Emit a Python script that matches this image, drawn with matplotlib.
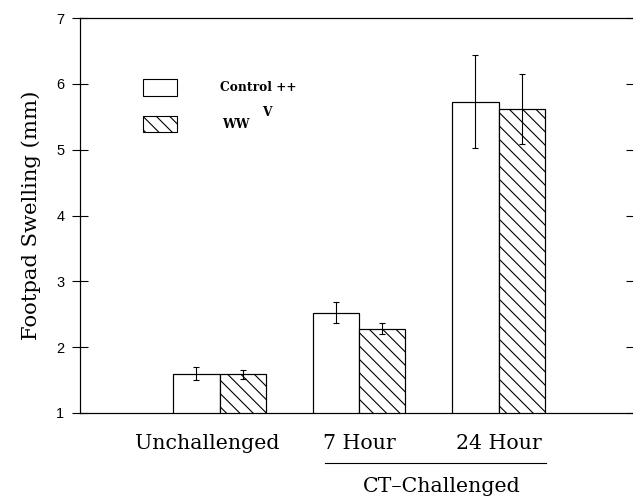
import numpy as np
import matplotlib.pyplot as plt
from matplotlib.patches import Rectangle
from matplotlib.lines import Line2D
import matplotlib.transforms as mtransforms

# Data
groups = ["Unchallenged", "7 Hour", "24 Hour"]
control_mean = [1.60, 2.52, 5.73]
control_err = [0.10, 0.16, 0.71]
ww_mean = [1.59, 2.28, 5.62]
ww_err = [0.07, 0.08, 0.53]
label_x = [0.915, 2.0, 3.0]

DPI = 80
fig = plt.figure(figsize=(633 / DPI, 497 / DPI), dpi=DPI)
ax = fig.add_axes([80 / 633, 84 / 497, 553 / 633, 395 / 497])

serif = "DejaVu Serif"
hatch = "\\\\"
x = np.arange(1, len(groups) + 1)
w = 0.33

ax.bar(x - w / 2, control_mean, w, color="white", edgecolor="black", linewidth=1.1)
ax.bar(x + w / 2, ww_mean, w, color="white", edgecolor="black", linewidth=1.1, hatch=hatch)
ax.errorbar(x - w / 2, control_mean, yerr=control_err, fmt="none", ecolor="black",
            elinewidth=1.0, capsize=3, capthick=1.0)
ax.errorbar(x + w / 2, ww_mean, yerr=ww_err, fmt="none", ecolor="black",
            elinewidth=1.0, capsize=3, capthick=1.0)

ax.set_xlim(0, 553 / 139.5)
ax.set_ylim(1, 7)
ax.set_yticks(range(1, 8))
ax.set_xticks([])
ax.spines["right"].set_visible(False)
for s in ["left", "top", "bottom"]:
    ax.spines[s].set_linewidth(1.1)
ax.tick_params(axis="y", left=True, right=True, direction="in", length=6, width=1.0,
               labelsize=13, pad=14)
# left ticks cross the spine
for t in ax.yaxis.get_major_ticks():
    t.tick1line.set_marker("_")
    t.tick1line.set_markersize(14)
for lbl in ax.get_yticklabels():
    lbl.set_family("Liberation Sans")

ax.set_ylabel("Footpad Swelling (mm)", family=serif, fontsize=19, labelpad=14)

# category labels under the axis
trans = mtransforms.blended_transform_factory(ax.transData, ax.transAxes)
for xl, g in zip(label_x, groups):
    ax.text(xl, -0.076, g, transform=trans, ha="center", va="center",
            family=serif, fontsize=18.5)
ax.add_line(Line2D([1.756, 3.34], [-0.127, -0.127], transform=trans,
                   color="black", linewidth=1.0, clip_on=False))
ax.text(2.595, -0.187, "CT\u2013Challenged", transform=trans, ha="center", va="center",
        family=serif, fontsize=18.5)

# legend drawn by hand
ax.add_patch(Rectangle((0.452, 5.82), 0.243, 0.26, facecolor="white", edgecolor="black", linewidth=1.0))
ax.add_patch(Rectangle((0.452, 5.27), 0.243, 0.24, facecolor="white", edgecolor="black",
                       linewidth=1.0, hatch=hatch))
ax.text(1.004, 5.94, "Control ++", family=serif, fontweight="bold", fontsize=11, va="center")
ax.text(1.018, 5.38, "WW", family=serif, fontweight="bold", fontsize=11, va="center")
ax.text(1.305, 5.56, "V", family=serif, fontweight="bold", fontsize=11, va="center")

fig.savefig("out.png", dpi=DPI)
